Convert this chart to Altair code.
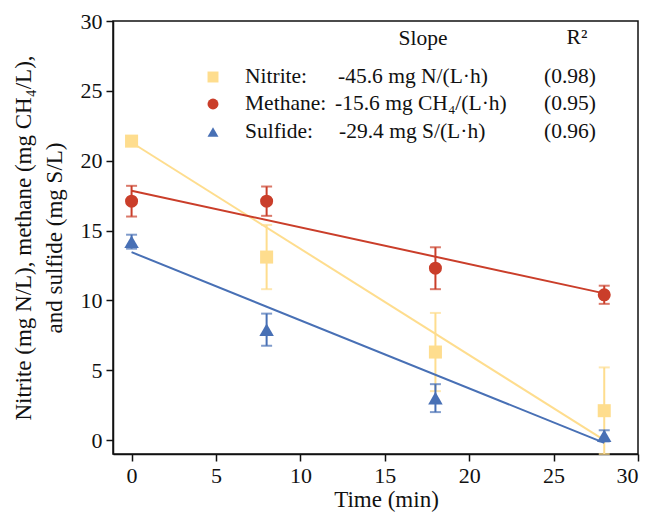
import altair as alt
import pandas as pd

# ---- data ----
time = [0, 8, 18, 28]
series = ["Nitrite", "Methane", "Sulfide"]
nitrite = [21.4, 13.1, 6.3, 2.1]
nitrite_err = [0.3, 2.3, 2.8, 3.1]
methane = [17.1, 17.1, 12.3, 10.4]
methane_err = [1.1, 1.05, 1.5, 0.65]
sulfide = [14.2, 7.9, 3.0, 0.3]
sulfide_err = [0.5, 1.15, 1.0, 0.4]

fit_time = [0, 28]
nitrite_fit = [21.3, 0.0]
methane_fit = [17.85, 10.5]
sulfide_fit = [13.45, -0.2]

slope_text = ["-45.6 mg N/(L\u00b7h)", "-15.6 mg CH\u2084/(L\u00b7h)", "-29.4 mg S/(L\u00b7h)"]
r2_text = ["(0.98)", "(0.95)", "(0.96)"]
legend_names = ["Nitrite:", "Methane:", "Sulfide:"]

colors = ["#FEDD8E", "#CA3E2A", "#4870B5"]
shapes = ["square", "circle", "triangle-up"]
sizes = [170, 170, 210]

FONT = "Liberation Serif"
LFS = 21.5
xs = alt.Scale(domain=[-1.1, 30], nice=False, zero=False)
ys = alt.Scale(domain=[-1, 30], nice=False, zero=False)

vals = [nitrite, methane, sulfide]
errs = [nitrite_err, methane_err, sulfide_err]
fits = [nitrite_fit, methane_fit, sulfide_fit]

layers = []
for i, name in enumerate(series):
    df = pd.DataFrame({"t": time, "v": vals[i], "e": errs[i]})
    df["lo"] = df["v"] - df["e"]
    df["hi"] = df["v"] + df["e"]
    fdf = pd.DataFrame({"t": fit_time, "v": fits[i]})
    base = alt.Chart(df)
    line = alt.Chart(fdf).mark_line(color=colors[i], strokeWidth=2).encode(
        x=alt.X("t:Q", scale=xs), y=alt.Y("v:Q", scale=ys))
    stem = base.mark_rule(color=colors[i], strokeWidth=2).encode(
        x=alt.X("t:Q", scale=xs), y=alt.Y("lo:Q", scale=ys), y2="hi:Q")
    cap_hi = base.mark_tick(color=colors[i], orient="horizontal", size=11, thickness=2).encode(
        x=alt.X("t:Q", scale=xs), y=alt.Y("hi:Q", scale=ys))
    cap_lo = base.mark_tick(color=colors[i], orient="horizontal", size=11, thickness=2).encode(
        x=alt.X("t:Q", scale=xs), y=alt.Y("lo:Q", scale=ys))
    pts = base.mark_point(filled=True, opacity=1, color=colors[i], shape=shapes[i],
                          size=sizes[i]).encode(
        x=alt.X("t:Q", scale=xs), y=alt.Y("v:Q", scale=ys))
    layers += [line, stem, cap_hi, cap_lo, pts]

# axes (attached to an invisible layer)
axis_layer = alt.Chart(pd.DataFrame({"t": time, "v": nitrite})).mark_point(opacity=0).encode(
    x=alt.X("t:Q", scale=xs, title="Time (min)",
            axis=alt.Axis(values=[0, 5, 10, 15, 20, 25, 30], titleX=273)),
    y=alt.Y("v:Q", scale=ys,
            title=["Nitrite (mg N/L), methane (mg CH\u2084/L),", "and sulfide (mg S/L)"],
            axis=alt.Axis(values=[0, 5, 10, 15, 20, 25, 30])),
)

# legend annotations
one = pd.DataFrame({"a": [0]})
ann = []
ann.append(alt.Chart(one).mark_text(text="Slope", font=FONT, fontSize=LFS, color="#111",
                                    align="center", baseline="middle").encode(
    x=alt.value(310), y=alt.value(18)))
ann.append(alt.Chart(one).mark_text(text="R\u00b2", font=FONT, fontSize=LFS, color="#111",
                                    align="center", baseline="middle").encode(
    x=alt.value(464), y=alt.value(17)))
row_y = [56, 83, 111]
slope_x = [225, 222, 226]
for i in range(3):
    ann.append(alt.Chart(one).mark_point(filled=True, opacity=1, color=colors[i], shape=shapes[i],
                                         size=120).encode(x=alt.value(100), y=alt.value(row_y[i])))
    ann.append(alt.Chart(one).mark_text(text=legend_names[i], font=FONT, fontSize=LFS, color="#111",
                                        align="left", baseline="middle").encode(
        x=alt.value(132), y=alt.value(row_y[i])))
    ann.append(alt.Chart(one).mark_text(text=slope_text[i], font=FONT, fontSize=LFS, color="#111",
                                        align="left", baseline="middle").encode(
        x=alt.value(slope_x[i]), y=alt.value(row_y[i])))
    ann.append(alt.Chart(one).mark_text(text=r2_text[i], font=FONT, fontSize=LFS, color="#111",
                                        align="center", baseline="middle").encode(
        x=alt.value(457), y=alt.value(row_y[i])))

chart = alt.layer(axis_layer, *layers, *ann).properties(
    width=525, height=433,
    autosize=alt.AutoSizeParams(type="none"),
    padding={"left": 105, "top": 13, "right": 7, "bottom": 59},
).configure_view(stroke="#111", strokeWidth=1.5).configure_axis(
    grid=False, domainColor="#111", domainWidth=1.5, tickColor="#111", tickWidth=1.5,
    tickSize=7, labelFont=FONT, labelFontSize=22, labelColor="#111", labelPadding=4,
    titleFont=FONT, titleFontSize=23, titleColor="#111", titleFontWeight="normal",
).configure_axisY(titlePadding=14, titleLineHeight=31).configure_axisX(titlePadding=2)

chart.save("out.html", embed_options={"renderer": "svg", "actions": False})
